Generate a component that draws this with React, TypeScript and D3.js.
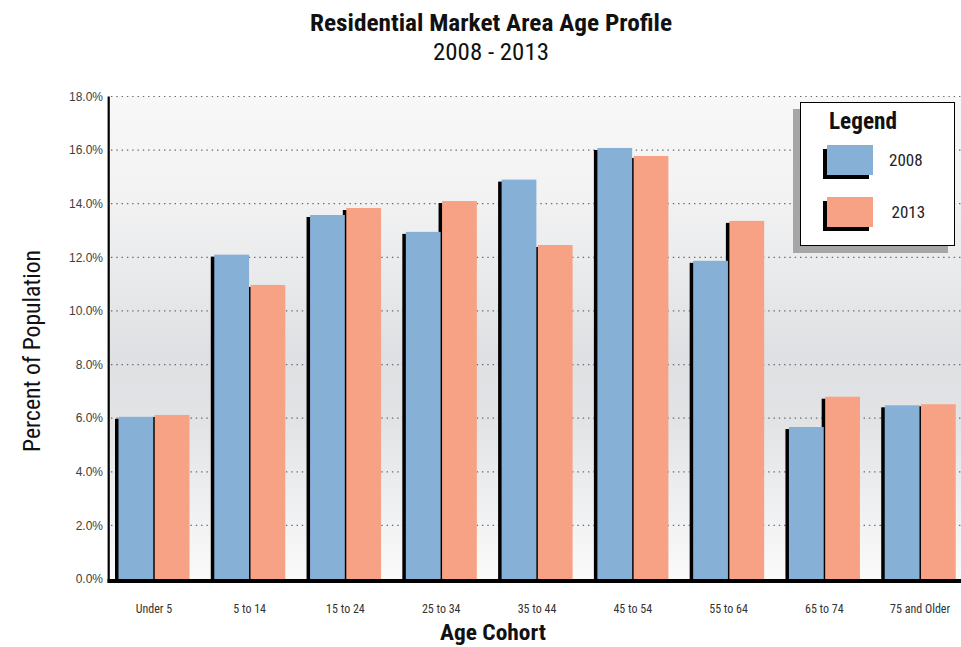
import React from "react";
import * as d3 from "d3";

const categories = ["Under 5", "5 to 14", "15 to 24", "25 to 34", "35 to 44", "45 to 54", "55 to 64", "65 to 74", "75 and Older"];
const seriesNames = ["2008", "2013"];
const values2008 = [6.05, 12.1, 13.58, 12.95, 14.9, 16.08, 11.87, 5.67, 6.48];
const values2013 = [6.12, 10.97, 13.84, 14.1, 12.46, 15.78, 13.36, 6.8, 6.52];
const yTicks = [0, 2, 4, 6, 8, 10, 12, 14, 16, 18];
const colors = ["#86B0D6", "#F7A284"];

const W = 961;
const H = 647;
const NARROW = "'Liberation Sans Narrow', 'Arial Narrow', 'Roboto Condensed', sans-serif";
const SANS = "'Liberation Sans', Arial, sans-serif";

export default function App() {
  const y = d3.scaleLinear().domain([0, 18]).range([579, 96.5]);
  const x0 = d3.scaleBand<string>().domain(categories).range([106, 968]).paddingInner(0).paddingOuter(0);
  const x1 = d3.scaleBand<string>().domain(seriesNames).range([12.5, 83.5]).paddingInner(0.04);
  const data = [values2008, values2013];
  const fmt = d3.format(".1f");

  return (
    <svg width={W} height={H} style={{ position: "absolute", left: 0, top: 0, background: "#fff" }}>
      <defs>
        <linearGradient id="bg" x1="0" y1="0" x2="0" y2="1">
          <stop offset="0" stopColor="#f8f8f8" />
          <stop offset="0.19" stopColor="#f3f3f4" />
          <stop offset="0.37" stopColor="#e9eaeb" />
          <stop offset="0.53" stopColor="#dfe0e3" />
          <stop offset="0.67" stopColor="#e2e3e5" />
          <stop offset="0.84" stopColor="#eeeff0" />
          <stop offset="1" stopColor="#fafafa" />
        </linearGradient>
      </defs>
      <rect x={108} y={y(18)} width={W - 108} height={y(0) - y(18)} fill="url(#bg)" />
      {yTicks.filter((t) => t > 0).map((t) => (
        <line key={t} x1={111} x2={W} y1={y(t)} y2={y(t)} stroke="#6a6a6a" strokeWidth={1.2} strokeDasharray="1.4,3.9" />
      ))}
      {yTicks.map((t) => (
        <text key={t} x={103} y={y(t)} dy="0.35em" textAnchor="end" fontFamily={SANS} fontSize={12} fill="#404040">
          {fmt(t)}%
        </text>
      ))}
      {/* shadows */}
      {categories.map((c, i) =>
        seriesNames.map((s, j) => {
          const bx = (x0(c) as number) + (x1(s) as number);
          return (
            <rect key={c + s + "sh"} x={bx - 3.5} y={y(data[j][i]) + 2} width={x1.bandwidth()} height={y(0) - y(data[j][i]) - 2} fill="#000" />
          );
        })
      )}
      {categories.map((c, i) =>
        seriesNames.map((s, j) => {
          const bx = (x0(c) as number) + (x1(s) as number);
          return <rect key={c + s} x={bx} y={y(data[j][i])} width={x1.bandwidth()} height={y(0) - y(data[j][i])} fill={colors[j]} />;
        })
      )}
      {/* axes */}
      <line x1={108.7} x2={108.7} y1={y(18)} y2={583} stroke="#000" strokeWidth={2.2} />
      <line x1={107.5} x2={W} y1={581} y2={581} stroke="#000" strokeWidth={4} />
      {categories.map((c) => (
        <text key={c} x={(x0(c) as number) + x0.bandwidth() / 2} y={613} textAnchor="middle" fontFamily={NARROW} fontSize={12} fill="#333">
          {c}
        </text>
      ))}
      {/* titles */}
      <text x={491} y={31} textAnchor="middle" fontFamily={NARROW} fontWeight="bold" fontSize={24} fill="#111" textLength={362} lengthAdjust="spacingAndGlyphs">
        Residential Market Area Age Profile
      </text>
      <text x={491} y={60} textAnchor="middle" fontFamily={NARROW} fontSize={24} fill="#111" textLength={116} lengthAdjust="spacingAndGlyphs">
        2008 - 2013
      </text>
      <text transform="translate(40,351) rotate(-90)" textAnchor="middle" fontFamily={NARROW} fontSize={23} fill="#111" textLength={202} lengthAdjust="spacingAndGlyphs">
        Percent of Population
      </text>
      <text x={493} y={640} textAnchor="middle" fontFamily={NARROW} fontWeight="bold" fontSize={22} fill="#111" textLength={106} lengthAdjust="spacingAndGlyphs">
        Age Cohort
      </text>
      {/* legend */}
      <rect x={793} y={109} width={155} height={144} fill="#a6a6a6" />
      <rect x={800.5} y={102.5} width={154} height={143} fill="#fff" stroke="#000" strokeWidth={1} />
      <text x={829} y={129} fontFamily={NARROW} fontWeight="bold" fontSize={23} fill="#111" textLength={68} lengthAdjust="spacingAndGlyphs">
        Legend
      </text>
      {seriesNames.map((s, j) => (
        <g key={s} transform={`translate(0,${j * 52})`}>
          <rect x={823} y={149} width={46} height={30} fill="#000" />
          <rect x={827} y={145} width={46} height={30} fill={colors[j]} />
          <text x={889 + j * 2.5} y={166} fontFamily={NARROW} fontSize={17} fill="#222">
            {s}
          </text>
        </g>
      ))}
    </svg>
  );
}
